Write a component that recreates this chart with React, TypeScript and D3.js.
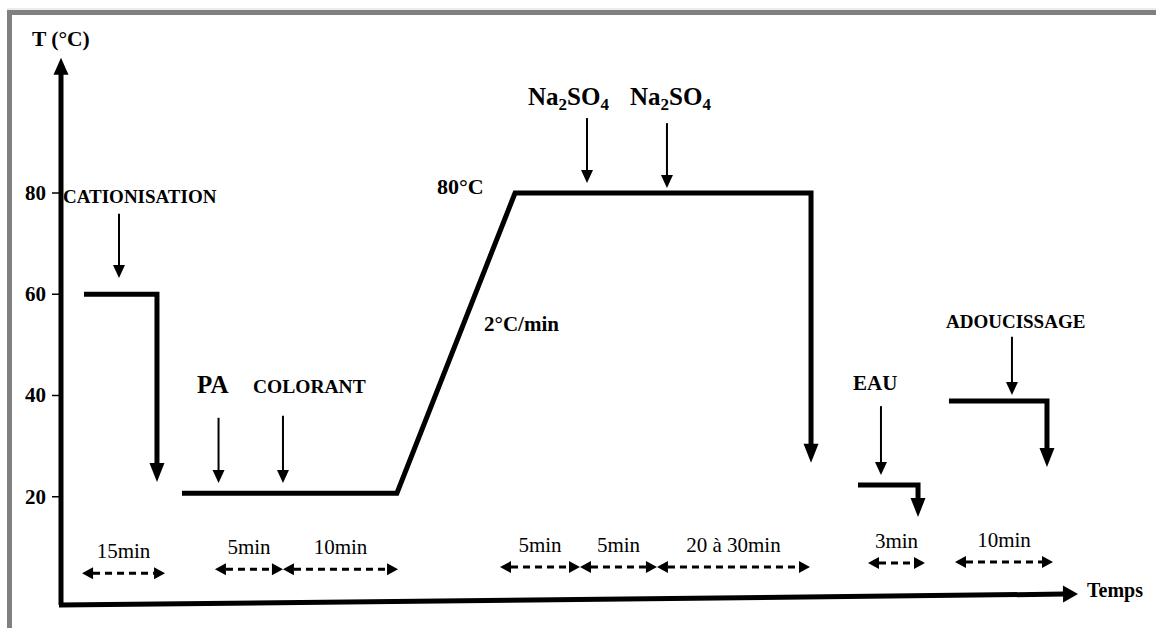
import React from "react";
import * as d3 from "d3";

// ---- data (schematic time units along the time axis, temperature in °C) ----
const yTicks = [20, 40, 60, 80];

const cationisationStep: [number, number][] = [[2.25, 60], [9.4, 60], [9.4, 22.9]];
const dyeingStep: [number, number][] = [[11.85, 20.7], [32.9, 20.7], [44.47, 80], [73.46, 80], [73.46, 26.7]];
const rinseStep: [number, number][] = [[78.06, 22.3], [83.94, 22.3], [83.94, 16.0]];
const softeningStep: [number, number][] = [[86.97, 38.9], [96.57, 38.9], [96.57, 25.9]];
const profileSteps = [cationisationStep, dyeingStep, rinseStep, softeningStep];

// additions: time, temperature where the arrow starts, and where it points
const additionTimes = [5.68, 15.43, 21.74, 51.52, 59.35, 80.31, 93.14];
const additionFrom = [75.9, 35.6, 36.0, 94.8, 93.8, 37.9, 51.6];
const additionTo = [63.2, 22.7, 22.7, 82.0, 81.0, 24.3, 40.1];

// durations
const durationLabels = ["15min", "5min", "10min", "5min", "5min", "20 à 30min", "3min", "10min"];
const durationStart = [2.06, 15.08, 21.74, 43.0, 50.83, 58.37, 79.04, 87.56];
const durationEnd = [10.19, 21.74, 33.01, 50.83, 58.37, 73.36, 84.62, 97.16];
const durationLevel = [4.9, 5.7, 5.7, 6.1, 6.1, 6.1, 6.9, 7.1];

const FONT = "'Liberation Serif', 'Times New Roman', serif";

const xScale = d3.scaleLinear().domain([0, 100]).range([61, 1082]);
const yScale = d3.scaleLinear().domain([0, 80]).range([598, 193]);

const line = d3
  .line<[number, number]>()
  .x((d) => xScale(d[0]))
  .y((d) => yScale(d[1]));

function head(tipX: number, tipY: number, dx: number, dy: number, len: number, w: number) {
  // dx,dy: unit direction of arrow
  const bx = tipX - dx * len;
  const by = tipY - dy * len;
  const px = -dy, py = dx;
  return `M${tipX},${tipY}L${bx + (px * w) / 2},${by + (py * w) / 2}L${bx - (px * w) / 2},${by - (py * w) / 2}Z`;
}

export default function App() {
  const thickLen = 19, thickW = 15;
  const thinLen = 13, thinW = 12;

  return (
    <svg
      width={1156}
      height={628}
      style={{ position: "absolute", left: 0, top: 0, background: "#fff" }}
      fontFamily={FONT}
    >
      {/* frame */}
      <rect x={7} y={10} width={1149} height={5} fill="#808080" />
      <rect x={7} y={10} width={5} height={618} fill="#808080" />
      <line x1={7} x2={1156} y1={9} y2={9} stroke="#d8d8d8" strokeWidth={1} />

      {/* y axis */}
      <line x1={xScale(0)} x2={xScale(0)} y1={yScale(-1.4)} y2={yScale(106.7) + 15} stroke="#000" strokeWidth={5} />
      <path d={head(xScale(0), yScale(106.7), 0, -1, 17, 15)} fill="#000" />
      {yTicks.map((t) => (
        <g key={t}>
          <line x1={xScale(0) - 9} x2={xScale(0)} y1={yScale(t)} y2={yScale(t)} stroke="#000" strokeWidth={1.5} />
          <text x={xScale(0) - 15} y={yScale(t)} dy="0.33em" textAnchor="end" fontWeight="bold" fontSize={21} fill="#000">
            {t}
          </text>
        </g>
      ))}
      <text x={32} y={46} fontWeight="bold" fontSize={21.5} fill="#000">T (°C)</text>

      {/* x axis */}
      {(() => {
        const x1 = xScale(0), y1 = yScale(-1.4), x2 = 1078, y2 = yScale(0.8);
        const L = Math.hypot(x2 - x1, y2 - y1);
        const dx = (x2 - x1) / L, dy = (y2 - y1) / L;
        return (
          <g>
            <line x1={x1 - 2} y1={y1} x2={x2 - dx * 14} y2={y2 - dy * 14} stroke="#000" strokeWidth={5} />
            <path d={head(x2, y2, dx, dy, 15, 17)} fill="#000" />
          </g>
        );
      })()}
      <text x={1087} y={597} fontWeight="bold" fontSize={20} fill="#000">Temps</text>

      {/* temperature profile */}
      {profileSteps.map((pts, i) => {
        const last = pts[pts.length - 1];
        const tipX = xScale(last[0]);
        const tipY = yScale(last[1]);
        const shortened = pts.slice(0, -1).concat([[last[0], yScale.invert(tipY - thickLen + 2)]]) as [number, number][];
        return (
          <g key={i}>
            <path d={line(shortened) || ""} fill="none" stroke="#000" strokeWidth={5} strokeLinejoin="miter" />
            <path d={head(tipX, tipY, 0, 1, thickLen, thickW)} fill="#000" />
          </g>
        );
      })}

      {/* addition arrows */}
      {additionTimes.map((t, i) => {
        const x = xScale(t);
        const y1 = yScale(additionFrom[i]);
        const y2 = yScale(additionTo[i]);
        return (
          <g key={i}>
            <line x1={x} x2={x} y1={y1} y2={y2 - thinLen + 2} stroke="#000" strokeWidth={2} />
            <path d={head(x, y2, 0, 1, thinLen, thinW)} fill="#000" />
          </g>
        );
      })}

      {/* annotation labels */}
      <g fontWeight="bold" fill="#000">
        <text x={63} y={203} fontSize={19}>CATIONISATION</text>
        <text x={197} y={393} fontSize={25}>PA</text>
        <text x={253} y={393} fontSize={19.5}>COLORANT</text>
        <text x={437} y={194} fontSize={22}>80°C</text>
        <text x={484} y={331} fontSize={21}>2°C/min</text>
        {[528, 630].map((x) => (
          <text key={x} x={x} y={105} fontSize={25}>
            Na<tspan fontSize={17} dy={5}>2</tspan>
            <tspan dy={-5}>SO</tspan>
            <tspan fontSize={17} dy={5}>4</tspan>
          </text>
        ))}
        <text x={853} y={390} fontSize={21}>EAU</text>
        <text x={946} y={328} fontSize={19}>ADOUCISSAGE</text>
      </g>

      {/* durations */}
      {durationLabels.map((lab, i) => {
        const xa = xScale(durationStart[i]);
        const xb = xScale(durationEnd[i]);
        const y = yScale(durationLevel[i]);
        const hl = 11, hw = 12;
        return (
          <g key={i}>
            <line x1={xa + hl} x2={xb - hl} y1={y} y2={y} stroke="#000" strokeWidth={3} strokeDasharray="7,5" />
            <path d={head(xa, y, -1, 0, hl, hw)} fill="#000" />
            <path d={head(xb, y, 1, 0, hl, hw)} fill="#000" />
            <text x={(xa + xb) / 2} y={y - 15} textAnchor="middle" fontSize={21} fill="#000">
              {lab}
            </text>
          </g>
        );
      })}
    </svg>
  );
}
